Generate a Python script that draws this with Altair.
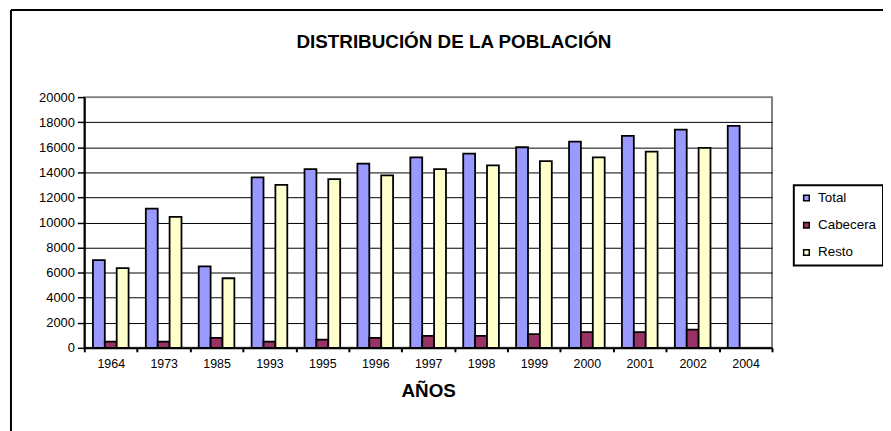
import altair as alt
import pandas as pd

years = ["1964", "1973", "1985", "1993", "1995", "1996", "1997", "1998", "1999", "2000", "2001", "2002", "2004"]
series = ["Total", "Cabecera", "Resto"]
total = [7000, 11100, 6500, 13600, 14250, 14700, 15200, 15500, 16000, 16450, 16900, 17400, 17700]
cabecera = [500, 500, 800, 500, 650, 800, 950, 950, 1100, 1250, 1250, 1450, None]
resto = [6350, 10450, 5550, 13000, 13450, 13750, 14250, 14550, 14900, 15200, 15650, 15950, None]
colors = ["#9999FF", "#993366", "#FFFFCC"]
y_ticks = list(range(0, 20001, 2000))
title_text = "DISTRIBUCIÓN DE LA POBLACIÓN"
x_title = "AÑOS"

rows = []
for name, vals in zip(series, [total, cabecera, resto]):
    for yr, v in zip(years, vals):
        if v is not None:
            rows.append({"Año": yr, "Serie": name, "Valor": v})
df = pd.DataFrame(rows)

FONT = "Liberation Sans"

bars = alt.Chart(df).mark_bar(stroke="black", strokeWidth=1.8).encode(
    x=alt.X("Año:N", sort=years,
            scale=alt.Scale(paddingInner=0, paddingOuter=0),
            axis=alt.Axis(title=x_title, labelAngle=0, tickBand="extent",
                          ticks=True, tickSize=4, tickColor="black", tickWidth=2,
                          domainColor="black", domainWidth=2, grid=False,
                          labelFontSize=12.5, labelColor="black", labelPadding=6,
                          titleFontSize=19, titleFontWeight="bold", titleColor="black",
                          titlePadding=12)),
    xOffset=alt.XOffset("Serie:N", sort=series,
                        scale=alt.Scale(paddingInner=0, paddingOuter=0.725)),
    y=alt.Y("Valor:Q", scale=alt.Scale(domain=[0, 20000], nice=False),
            axis=alt.Axis(title=None, values=y_ticks, format="d",
                          grid=True,
                          gridColor=alt.condition("datum.value == 20000", alt.value("#808080"), alt.value("black")),
                          gridWidth=1, domainColor="black", domainWidth=2,
                          tickColor="black", tickSize=7, tickWidth=1.5,
                          labelFontSize=13, labelColor="black", labelPadding=3)),
    color=alt.Color("Serie:N", sort=series,
                    scale=alt.Scale(domain=series, range=colors),
                    legend=alt.Legend(title=None, orient="none", legendX=716, legendY=89,
                                      symbolType="square", symbolSize=32,
                                      symbolStrokeColor="black", symbolStrokeWidth=1.5,
                                      labelFontSize=13.5, labelColor="black", labelOffset=5,
                                      rowPadding=12.5, padding=6, strokeColor="black")),
)

one = pd.DataFrame({"a": [0]})
frame_top = alt.Chart(one).mark_rule(color="black", strokeWidth=2).encode(
    x=alt.value(-74), x2=alt.value(900), y=alt.value(-88))
frame_left = alt.Chart(one).mark_rule(color="black", strokeWidth=2).encode(
    x=alt.value(-74), y=alt.value(-88), y2=alt.value(400))
title = alt.Chart(one).mark_text(fontSize=19, fontWeight="bold", font=FONT,
                                 align="center", baseline="middle", color="black").encode(
    x=alt.value(373), y=alt.value(-56), text=alt.value(title_text))

chart = alt.layer(bars, frame_top, frame_left, title).properties(
    width=694, height=253,
    autosize=alt.AutoSizeParams(type="none"),
    padding={"left": 77, "top": 88, "right": 112, "bottom": 82},
).configure(font=FONT).configure_view(
    stroke="#808080", strokeWidth=2
).configure_legend(strokeWidth=2)

chart.save("out.html", embed_options={"renderer": "svg", "actions": False})
